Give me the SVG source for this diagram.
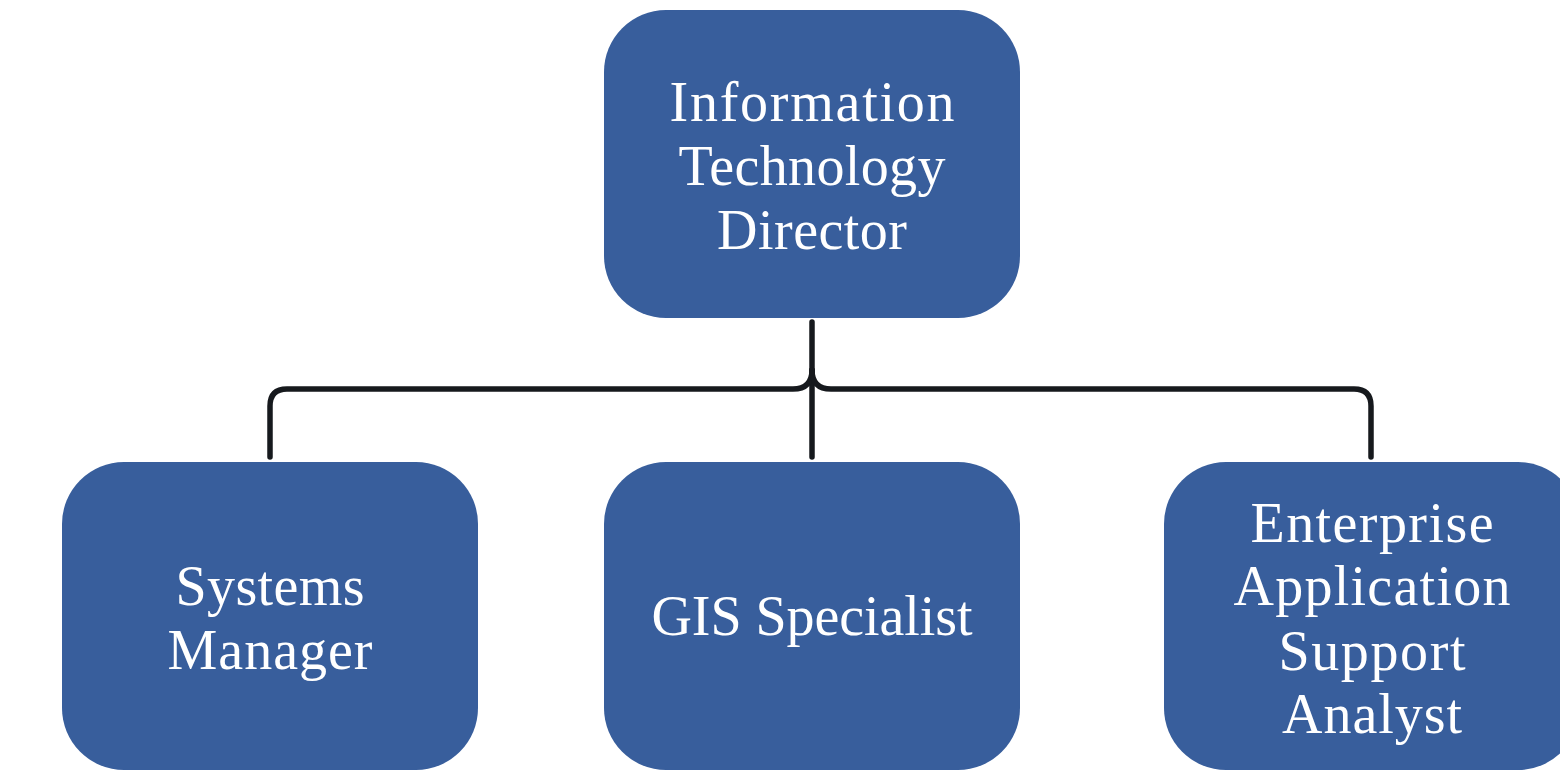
<svg xmlns="http://www.w3.org/2000/svg" width="1560" height="773" viewBox="0 0 1560 773">
<style>
.box{fill:#385e9c}
.lbl{font-family:"Liberation Serif","DejaVu Serif",serif;font-size:56px;fill:#ffffff;text-anchor:middle}
.con{fill:none;stroke:#16191d;stroke-width:5.5;stroke-linecap:round;stroke-linejoin:round}
</style>
<rect width="1560" height="773" fill="#ffffff"/>
<g id="connectors">
<path class="con" d="M812,322 V457"/>
<path class="con" d="M812,370 Q812,389 793,389 H287 Q270,389 270,406 V457"/>
<path class="con" d="M812,370 Q812,389 831,389 H1354 Q1371,389 1371,406 V457"/>
</g>
<g id="node-director">
<rect class="box" x="604" y="10" width="416" height="308" rx="62" ry="62"/>
<text class="lbl" x="812" y="121" textLength="285">Information</text>
<text class="lbl" x="812" y="185" textLength="267">Technology</text>
<text class="lbl" x="812" y="249" textLength="190">Director</text>
</g>
<g id="node-systems">
<rect class="box" x="62" y="462" width="416" height="308" rx="62" ry="62"/>
<text class="lbl" x="270" y="605" textLength="189">Systems</text>
<text class="lbl" x="270" y="669" textLength="205">Manager</text>
</g>
<g id="node-gis">
<rect class="box" x="604" y="462" width="416" height="308" rx="62" ry="62"/>
<text class="lbl" x="812" y="635" textLength="321">GIS Specialist</text>
</g>
<g id="node-enterprise">
<rect class="box" x="1164" y="462" width="416" height="308" rx="62" ry="62"/>
<text class="lbl" x="1372" y="542" textLength="243">Enterprise</text>
<text class="lbl" x="1372" y="605" textLength="277">Application</text>
<text class="lbl" x="1372" y="670" textLength="187">Support</text>
<text class="lbl" x="1372" y="733" textLength="180">Analyst</text>
</g>
</svg>
